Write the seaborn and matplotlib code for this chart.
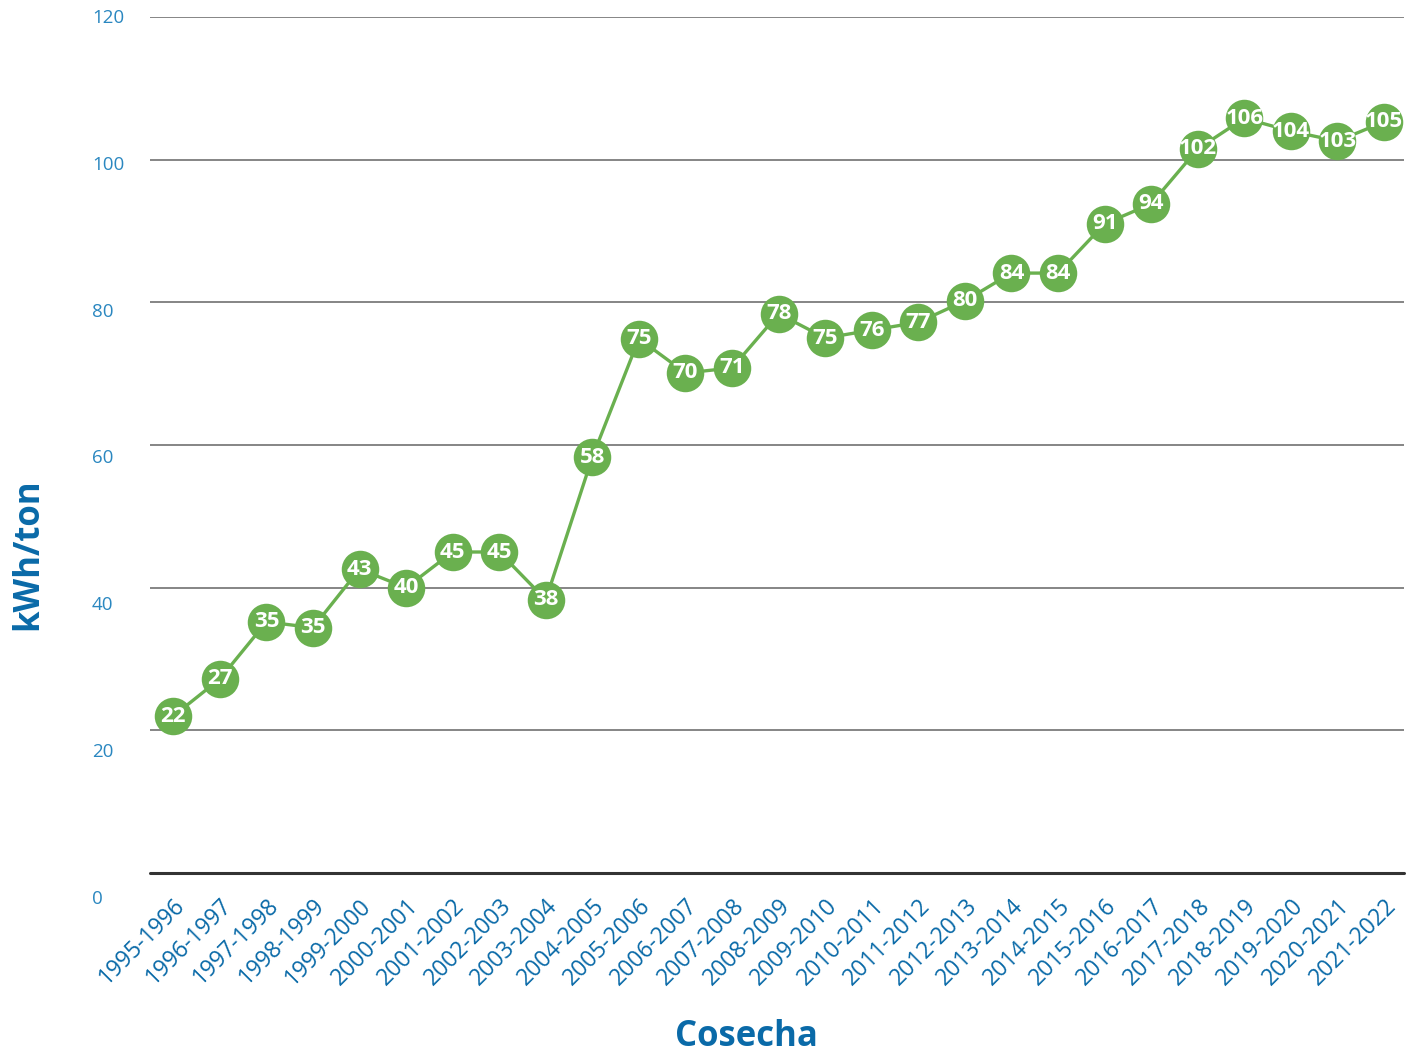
import matplotlib
matplotlib.use("Agg")
import matplotlib.pyplot as plt
import matplotlib.transforms as mtransforms
import seaborn as sns
import pandas as pd
import numpy as np

seasons = ["1995-1996", "1996-1997", "1997-1998", "1998-1999", "1999-2000",
           "2000-2001", "2001-2002", "2002-2003", "2003-2004", "2004-2005",
           "2005-2006", "2006-2007", "2007-2008", "2008-2009", "2009-2010",
           "2010-2011", "2011-2012", "2012-2013", "2013-2014", "2014-2015",
           "2015-2016", "2016-2017", "2017-2018", "2018-2019", "2019-2020",
           "2020-2021", "2021-2022"]
values = [22.0, 27.2, 35.2, 34.4, 42.6, 40.0, 45.0, 45.0, 38.3, 58.3,
          74.9, 70.1, 70.8, 78.4, 75.0, 76.1, 77.2, 80.2, 84.1, 84.1,
          91.0, 93.8, 101.5, 105.8, 104.0, 102.6, 105.3]
labels = ["22", "27", "35", "35", "43", "40", "45", "45", "38", "58",
          "75", "70", "71", "78", "75", "76", "77", "80", "84", "84",
          "91", "94", "102", "106", "104", "103", "105"]
yticks = [0, 20, 40, 60, 80, 100, 120]

GREEN = "#6ab04f"
BLUE = "#0a6aa8"
LBLUE = "#2a87c0"
FONT = "Open Sans"

sns.set_theme(style="white")
plt.rcParams["font.family"] = [FONT, "DejaVu Sans"]

df = pd.DataFrame({"idx": np.arange(len(seasons)), "val": values})

fig = plt.figure(figsize=(14.12, 10.53), dpi=100)
ax = fig.add_axes([150 / 1412, 1 - 873 / 1053, (1404 - 150) / 1412, (873 - 17) / 1053])

for t in yticks[1:]:
    ax.axhline(t, color="#858585", lw=1.4, zorder=0)
ax.axhline(0, color="#333333", lw=2.2, zorder=0, clip_on=False)

sns.lineplot(data=df, x="idx", y="val", ax=ax, color=GREEN, lw=2.4,
             marker="o", markersize=27, markeredgewidth=0, zorder=3)

for i, (v, lab) in enumerate(zip(values, labels)):
    ax.text(i, v, lab, ha="center", va="center", color="white",
            fontsize=16, fontweight="bold", zorder=5)

ax.set_xlim(-0.5, len(seasons) - 0.57)
ax.set_ylim(0, 120)
ax.set_xticks(range(len(seasons)))
ax.set_xticklabels(seasons, rotation=45, ha="right", rotation_mode="anchor",
                   color=BLUE, fontsize=16.5)
ax.tick_params(axis="x", length=0, pad=15)
ax.set_yticks([])
for s in ax.spines.values():
    s.set_visible(False)

# y tick labels (offset spacing as in reference)
trans = mtransforms.blended_transform_factory(ax.transAxes, ax.transData)
for t in yticks:
    ax.text(-58 / 1254, t * 1.0287 - 3.6, str(t), transform=trans,
            ha="left", va="center", color=LBLUE, fontsize=13.5)

ax.set_xlabel("")
ax.set_ylabel("")
fig.text(746 / 1412, 1 - 1037 / 1053, "Cosecha", ha="center", va="center",
         color=BLUE, fontsize=25, fontweight="bold")
fig.text(28 / 1412, 1 - 554 / 1053, "kWh/ton", rotation=90, ha="center", va="center",
         color=BLUE, fontsize=25, fontweight="bold")

fig.savefig("out.png", dpi=100)
